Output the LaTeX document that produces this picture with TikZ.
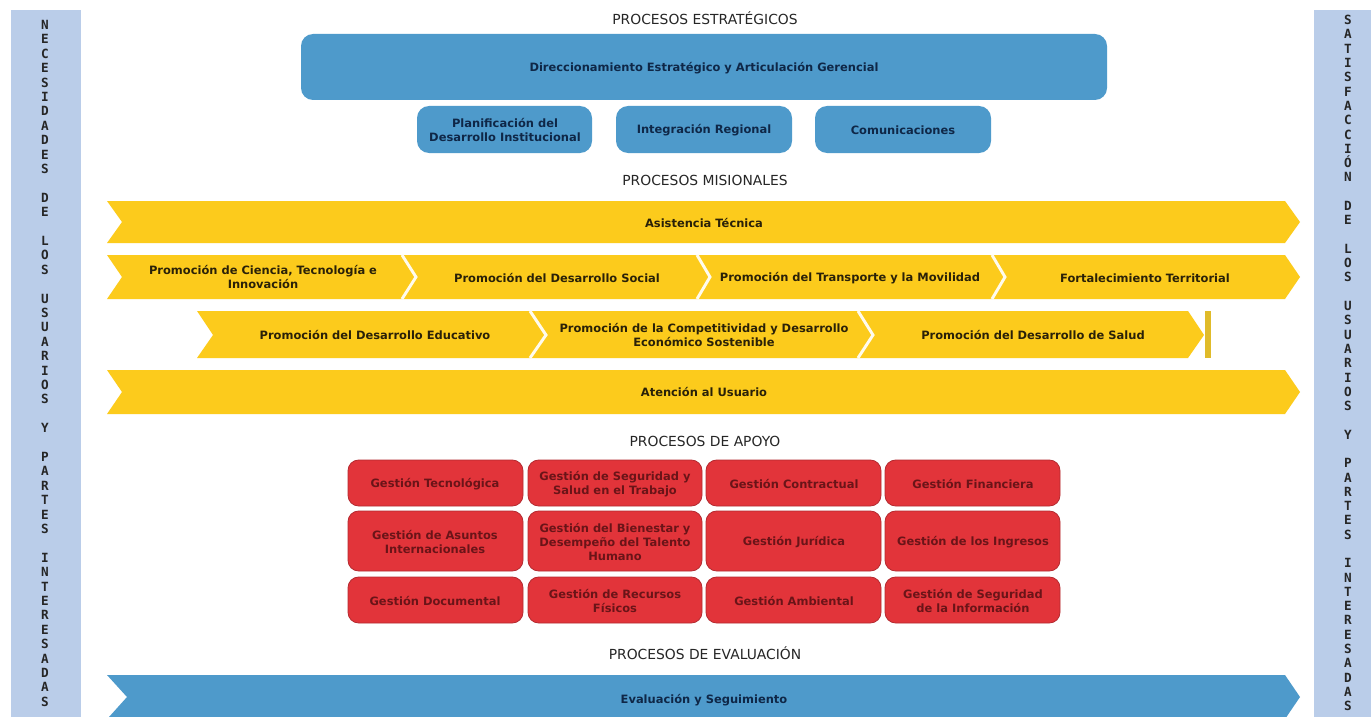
\documentclass[tikz,border=0pt]{standalone}
\usepackage{fontspec}
\setmainfont{DejaVu Sans}
\newfontfamily\sidefont{DejaVu Sans Mono}
\definecolor{sidec}{HTML}{BACDE9}
\definecolor{bluec}{HTML}{4E9ACB}
\definecolor{yelc}{HTML}{FCCB1C}
\definecolor{barc}{HTML}{E0BB2A}
\definecolor{redc}{HTML}{E2343A}
\definecolor{redb}{HTML}{B42A30}
\definecolor{navyt}{HTML}{0F2747}
\definecolor{redt}{HTML}{6A1418}
\definecolor{yelt}{HTML}{2A2108}
\tikzset{
  x=0.75pt,y=-0.75pt,
  sidecol/.style={fill=sidec,draw=none},
  sidetext/.style={font=\sidefont\fontsize{9.5}{10.8}\selectfont\bfseries,align=center,inner sep=0pt,anchor=north,text=black!85},
  sidetextr/.style={font=\sidefont\fontsize{9.5}{10.72}\selectfont\bfseries,align=center,inner sep=0pt,anchor=north,text=black!85},
  title/.style={font=\fontsize{10.4}{10.5}\selectfont,text=black!85,inner sep=0pt},
  lab/.style={font=\fontsize{8.6}{10.5}\selectfont\bfseries,align=center,inner sep=0pt},
  bluelab/.style={lab,text=navyt},
  yellab/.style={lab,text=yelt},
  redlab/.style={lab,text=redt},
  bluebox/.style={fill=bluec,draw=none,rounded corners=9pt},
  redbox/.style={fill=redc,draw=redb,line width=0.6pt,rounded corners=8pt},
  yelarrow/.style={fill=yelc,draw=none},
  bluearrow/.style={fill=bluec,draw=none},
  sepline/.style={draw=white!92!yelc,line width=2.2pt},
}
\begin{document}
\begin{tikzpicture}
\useasboundingbox (0,0) rectangle (1371,717);
\fill[white] (0,0) rectangle (1371,717);
% side columns
\path[sidecol] (11,10) rectangle (81,717);
\path[sidecol] (1314,10) rectangle (1371,717);
\node[sidetext] (leftcol) at (45,20) {N\\E\\C\\E\\S\\I\\D\\A\\D\\E\\S\\\mbox{}\\D\\E\\\mbox{}\\L\\O\\S\\\mbox{}\\U\\S\\U\\A\\R\\I\\O\\S\\\mbox{}\\Y\\\mbox{}\\P\\A\\R\\T\\E\\S\\\mbox{}\\I\\N\\T\\E\\R\\E\\S\\A\\D\\A\\S};
\node[sidetextr] (rightcol) at (1348,15) {S\\A\\T\\I\\S\\F\\A\\C\\C\\I\\Ó\\N\\\mbox{}\\D\\E\\\mbox{}\\L\\O\\S\\\mbox{}\\U\\S\\U\\A\\R\\I\\O\\S\\\mbox{}\\Y\\\mbox{}\\P\\A\\R\\T\\E\\S\\\mbox{}\\I\\N\\T\\E\\R\\E\\S\\A\\D\\A\\S};
% titles
\node[title] (t1) at (705,18) {PROCESOS ESTRATÉGICOS};
\node[title] (t2) at (705,180) {PROCESOS MISIONALES};
\node[title] (t3) at (705,441) {PROCESOS DE APOYO};
\node[title] (t4) at (705,653) {PROCESOS DE EVALUACIÓN};
% strategic
\path[bluebox] (301,34) rectangle (1107,100);
\node[bluelab] (dir) at (704,68) {Direccionamiento Estratégico y Articulación Gerencial};
\path[bluebox] (417,106) rectangle (592,153);
\node[bluelab] (plan) at (505,130) {Planificación del\\Desarrollo Institucional};
\path[bluebox] (616,106) rectangle (792,153);
\node[bluelab] (integ) at (704,130) {Integración Regional};
\path[bluebox] (815,106) rectangle (991,153);
\node[bluelab] (comu) at (903,130) {Comunicaciones};
% missional
\path[yelarrow] (107,201) -- (1285,201) -- (1300,222) -- (1285,243) -- (107,243) -- (122,222) -- cycle;
\node[yellab] (asis) at (704,223) {Asistencia Técnica};
\path[yelarrow] (107,255) -- (1285,255) -- (1300,277) -- (1285,299) -- (107,299) -- (122,277) -- cycle;
\path[sepline] (402,255) -- (416,277) -- (402,299);
\path[sepline] (697,255) -- (710,277) -- (697,299);
\path[sepline] (992,255) -- (1005,277) -- (992,299);
\node[yellab] (cien) at (263,277) {Promoción de Ciencia, Tecnología e\\Innovación};
\node[yellab] (soc) at (557,278) {Promoción del Desarrollo Social};
\node[yellab] (trans) at (850,278) {Promoción del Transporte y la Movilidad};
\node[yellab] (fort) at (1145,278) {Fortalecimiento Territorial};
\path[yelarrow] (197,311) -- (1188,311) -- (1204,335) -- (1188,358) -- (197,358) -- (213,335) -- cycle;
\path[sepline] (530,311) -- (546,335) -- (530,358);
\path[sepline] (858,311) -- (873,335) -- (858,358);
\path[fill=barc] (1205,311) rectangle (1211,358);
\node[yellab] (edu) at (375,335) {Promoción del Desarrollo Educativo};
\node[yellab] (comp) at (704,335) {Promoción de la Competitividad y Desarrollo\\Económico Sostenible};
\node[yellab] (sal) at (1033,335) {Promoción del Desarrollo de Salud};
\path[yelarrow] (107,370) -- (1285,370) -- (1300,392) -- (1285,414) -- (107,414) -- (122,392) -- cycle;
\node[yellab] (aten) at (704,392) {Atención al Usuario};
% support
\path[redbox] (348,460) rectangle (523,506);
\node[redlab] (r11) at (435,484) {Gestión Tecnológica};
\path[redbox] (528,460) rectangle (702,506);
\node[redlab] (r12) at (615,484) {Gestión de Seguridad y\\Salud en el Trabajo};
\path[redbox] (706,460) rectangle (881,506);
\node[redlab] (r13) at (794,484) {Gestión Contractual};
\path[redbox] (885,460) rectangle (1060,506);
\node[redlab] (r14) at (973,484) {Gestión Financiera};
\path[redbox] (348,511) rectangle (523,571);
\node[redlab] (r21) at (435,542) {Gestión de Asuntos\\Internacionales};
\path[redbox] (528,511) rectangle (702,571);
\node[redlab] (r22) at (615,542) {Gestión del Bienestar y\\Desempeño del Talento\\Humano};
\path[redbox] (706,511) rectangle (881,571);
\node[redlab] (r23) at (794,542) {Gestión Jurídica};
\path[redbox] (885,511) rectangle (1060,571);
\node[redlab] (r24) at (973,542) {Gestión de los Ingresos};
\path[redbox] (348,577) rectangle (523,623);
\node[redlab] (r31) at (435,601) {Gestión Documental};
\path[redbox] (528,577) rectangle (702,623);
\node[redlab] (r32) at (615,601) {Gestión de Recursos\\Físicos};
\path[redbox] (706,577) rectangle (881,623);
\node[redlab] (r33) at (794,601) {Gestión Ambiental};
\path[redbox] (885,577) rectangle (1060,623);
\node[redlab] (r34) at (973,601) {Gestión de Seguridad\\de la Información};
% evaluation
\path[bluearrow] (107,675) -- (1285,675) -- (1300,697) -- (1286.4,717) -- (109,717) -- (127,697) -- cycle;
\node[bluelab] (eval) at (704,700) {Evaluación y Seguimiento};
\end{tikzpicture}
\end{document}
